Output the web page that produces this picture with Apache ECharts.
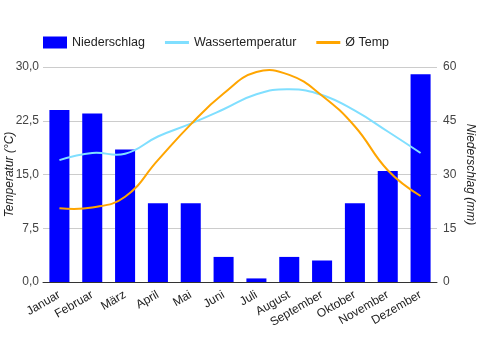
<!DOCTYPE html>
<html><head><meta charset="utf-8">
<script src="https://cdn.jsdelivr.net/npm/echarts@6/dist/echarts.min.js"></script>
<style>html,body{margin:0;padding:0;background:#fff}#c{width:481px;height:350px}</style>
</head><body><div id="c"></div>
<script>
const months = ['Januar','Februar','März','April','Mai','Juni','Juli','August','September','Oktober','November','Dezember'];
const niederschlag = [48, 47, 37, 22, 22, 7, 1, 7, 6, 22, 31, 58];
const wassertemperatur = [17.0, 18.0, 17.9, 20.3, 22.1, 24.1, 26.2, 26.9, 26.1, 23.9, 21.0, 18.0];
const temp = [10.3, 10.4, 11.9, 17.0, 22.0, 26.3, 29.3, 28.9, 26.0, 21.7, 15.6, 12.0];
const leftTicks = [0, 7.5, 15, 22.5, 30];
const rightTicks = [0, 15, 30, 45, 60];

const font = 'Liberation Sans, Arial, sans-serif';

// smooth curve drawn through the library's coordinate system
function curveSeries(name, values, color) {
  return {
    name: name, type: 'custom', yAxisIndex: 0, z: 5,
    data: values.map((v, i) => [i, v]),
    encode: {x: 0, y: 1},
    itemStyle: {color: color},
    renderItem: function (params, api) {
      if (params.dataIndex !== 0) return null;
      const pts = values.map((v, i) => api.coord([months[i], v]));
      return {
        type: 'polyline', silent: true, z2: 10,
        shape: {points: pts, smooth: 0.45},
        style: {stroke: color, lineWidth: 2, fill: null}
      };
    }
  };
}

const chart = echarts.init(document.getElementById('c'), null, {renderer: 'canvas'});
chart.setOption({
  animation: false,
  textStyle: {fontFamily: font},
  legend: {
    left: 43, top: 36, padding: 0, itemWidth: 24, itemHeight: 12, itemGap: 20,
    textStyle: {fontFamily: font, fontSize: 12.5, color: '#222'},
    data: [
      {name: 'Niederschlag', icon: 'rect'},
      {name: 'Wassertemperatur', icon: 'path://M0,0 L24,0 L24,3 L0,3 Z'},
      {name: 'Ø Temp', icon: 'path://M0,0 L24,0 L24,3 L0,3 Z'}
    ]
  },
  grid: {left: 43, right: 44, top: 67, bottom: 68, outerBoundsMode: 'none', containLabel: false},
  xAxis: {
    type: 'category', data: months,
    axisTick: {show: false},
    axisLine: {lineStyle: {color: '#333'}},
    axisLabel: {rotate: 30, fontSize: 12, color: '#222', fontFamily: font, margin: 12, interval: 0}
  },
  yAxis: [
    {
      type: 'value', min: leftTicks[0], max: leftTicks[leftTicks.length-1], interval: 7.5,
      name: 'Temperatur (°C)', nameLocation: 'middle', nameGap: 27, nameRotate: 90, nameMoveOverlap: false,
      nameTextStyle: {fontStyle: 'italic', fontSize: 12, color: '#222', fontFamily: font},
      axisLabel: {fontSize: 12, color: '#444', margin: 4, formatter: v => v.toFixed(1).replace('.', ',')},
      splitLine: {lineStyle: {color: '#ccc'}},
      axisLine: {show: false}, axisTick: {show: false}
    },
    {
      type: 'value', min: rightTicks[0], max: rightTicks[rightTicks.length-1], interval: 15,
      name: 'Niederschlag (mm)', nameLocation: 'middle', nameGap: 27, nameRotate: -90, nameMoveOverlap: false,
      nameTextStyle: {fontStyle: 'italic', fontSize: 12, color: '#222', fontFamily: font},
      axisLabel: {fontSize: 12, color: '#444', margin: 6},
      splitLine: {show: false},
      axisLine: {show: false}, axisTick: {show: false}
    }
  ],
  series: [
    {name: 'Niederschlag', type: 'bar', yAxisIndex: 1, z: 2, data: niederschlag, barWidth: '61%',
     itemStyle: {color: '#0000ff'}},
    curveSeries('Wassertemperatur', wassertemperatur, '#80dfff'),
    curveSeries('Ø Temp', temp, '#ffa500')
  ]
});
</script></body></html>
